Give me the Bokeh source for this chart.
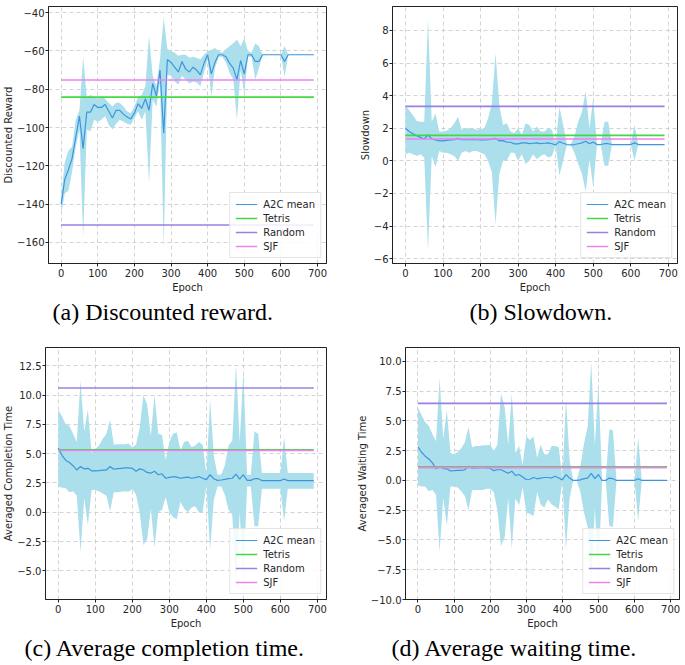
from bokeh.plotting import figure
from bokeh.models import (FixedTicker, CustomJSTickFormatter, Legend, LegendItem,
                          Title, Range1d)
from bokeh.layouts import column, row
from bokeh.embed import file_html
from bokeh.resources import INLINE

# ---------------- data ----------------
epochs = [0, 10, 20, 30, 40, 50, 60, 70, 80, 90,
          100, 110, 120, 130, 140, 150, 160, 170, 180, 190,
          200, 210, 220, 230, 240, 250, 260, 270, 280, 290,
          300, 310, 320, 330, 340, 350, 360, 370, 380, 390,
          400, 410, 420, 430, 440, 450, 460, 470, 480, 490,
          500, 510, 520, 530, 540, 550, 560, 570, 580, 590,
          600, 610, 620, 630, 640, 650, 660, 670, 680, 690]

reward_mean = [-140, -127, -122, -116, -105, -94, -111, -92, -92, -88,
               -89.5, -89.5, -88, -91.5, -95, -91, -91, -93, -94.5, -95.5,
               -92.5, -87.5, -90, -85, -91, -77, -83.5, -70, -103, -64.5,
               -66, -68.5, -71, -65.5, -69.5, -71, -68.5, -70, -72.5, -66.5,
               -62, -72, -66, -62, -62, -63, -66.5, -69, -75, -65,
               -72, -62, -62, -65.5, -65.5, -62, -62, -62, -62, -62,
               -62, -65.5, -62, -62, -62, -62, -62, -62, -62, -62]
reward_upper = [-136, -118, -112, -110, -96, -91, -63, -84, -83, -84,
                -85, -84, -85, -87, -89, -87, -87, -89, -91.5, -92.5,
                -89, -84, -83, -78.5, -52, -73, -78.5, -64, -42.5, -59,
                -60, -61, -62.5, -62, -62, -63.5, -63, -63.5, -64.5, -62,
                -60, -59.5, -58.5, -60, -61, -59, -57.5, -56, -54, -57.5,
                -53.5, -60, -61, -56, -57.5, -62, -62, -62, -62, -62,
                -62, -57.5, -62, -62, -62, -62, -62, -62, -62, -62]
reward_lower = [-145, -134.5, -133, -123, -110, -101, -157.5, -101, -102, -96,
                -97, -96, -94, -98.5, -101, -98, -96, -97, -98, -98.5,
                -95, -91.5, -96, -91.5, -129, -85.5, -89, -76.5, -163, -72.5,
                -73, -76, -77.5, -73, -75, -77, -76, -76.5, -78.5, -71.5,
                -64.5, -84, -69, -63, -63, -66, -71.5, -75, -96, -70,
                -82.5, -63, -63, -75, -69, -62, -62, -62, -62, -62,
                -62, -73.5, -62, -62, -62, -62, -62, -62, -62, -62]

slow_mean = [2.0, 1.8, 1.66, 1.54, 1.44, 1.34, 1.6, 1.34, 1.28, 1.22,
             1.22, 1.26, 1.28, 1.3, 1.38, 1.3, 1.3, 1.3, 1.32, 1.3,
             1.28, 1.28, 1.3, 1.32, 1.38, 1.22, 1.24, 1.14, 1.14, 1.04,
             1.04, 1.1, 1.1, 1.06, 1.08, 1.1, 1.06, 1.08, 1.1, 1.05,
             0.98, 1.18, 1.08, 1.0, 0.98, 1.0, 1.05, 1.1, 1.2, 1.05,
             1.15, 1.0, 1.0, 1.05, 1.05, 1.0, 1.0, 1.0, 1.0, 1.0,
             1.0, 1.1, 1.0, 1.0, 1.0, 1.0, 1.0, 1.0, 1.0, 1.0]
slow_upper = [3.4, 3.1, 2.8, 2.45, 2.4, 2.4, 8.7, 2.4, 2.9, 1.8,
              1.8, 1.85, 2.0, 2.3, 2.7, 1.9, 2.0, 2.0, 2.0, 1.9,
              1.95, 2.0, 2.6, 3.5, 6.6, 3.4, 2.2, 2.3, 1.8, 1.7,
              2.0, 1.6, 2.3, 2.2, 1.8, 2.1, 1.8, 1.8, 2.0, 1.9,
              1.02, 3.3, 2.2, 1.0, 1.0, 1.5, 2.4, 3.0, 4.3, 2.0,
              3.8, 1.0, 1.0, 2.4, 2.4, 1.0, 1.0, 1.0, 1.0, 1.0,
              1.0, 2.2, 1.0, 1.0, 1.0, 1.0, 1.0, 1.0, 1.0, 1.0]
slow_lower = [0.4, 0.5, 0.4, 0.3, 0.4, 0.2, -5.5, 0.3, -0.4, 0.6,
              0.5, 0.5, 0.4, 0.3, 0.0, 0.5, 0.6, 0.5, 0.6, 0.6,
              0.5, 0.4, 0.0, -0.7, -3.9, -0.8, 0.0, 0.0, 0.5, 0.5,
              0.0, 0.4, -0.2, 0.0, 0.4, 0.1, 0.3, 0.4, 0.2, 0.3,
              0.95, -0.9, 0.0, 1.0, 0.98, 0.5, -0.2, -0.8, -1.9, 0.1,
              -1.6, 1.0, 1.0, -0.3, -0.3, 1.0, 1.0, 1.0, 1.0, 1.0,
              1.0, 0.0, 1.0, 1.0, 1.0, 1.0, 1.0, 1.0, 1.0, 1.0]

comp_mean = [5.47, 4.86, 4.44, 4.25, 3.97, 3.6, 3.9, 3.7, 3.75, 3.53,
             3.53, 3.55, 3.6, 3.6, 3.9, 3.67, 3.72, 3.75, 3.78, 3.78,
             3.75, 3.5, 3.7, 3.6, 3.4, 3.33, 3.5, 3.2, 3.28, 2.9,
             2.97, 3.03, 3.0, 2.9, 2.95, 3.0, 2.9, 2.95, 3.05, 2.9,
             2.78, 3.2, 2.86, 2.72, 2.75, 2.8, 2.86, 2.9, 3.25, 2.83,
             3.2, 2.72, 2.72, 2.86, 2.86, 2.7, 2.7, 2.7, 2.7, 2.7,
             2.7, 2.84, 2.7, 2.7, 2.7, 2.7, 2.7, 2.7, 2.7, 2.7]
comp_upper = [8.75, 8.2, 7.5, 7.36, 6.7, 6.0, 11.25, 6.9, 8.75, 5.1,
              5.4, 5.7, 6.25, 6.7, 7.9, 5.75, 5.8, 5.8, 5.8, 5.86,
              5.55, 5.75, 7.2, 10.0, 9.2, 6.5, 10.0, 6.7, 6.6, 4.45,
              6.0, 6.7, 6.8, 5.3, 6.0, 6.1, 5.55, 5.7, 6.0, 5.75,
              3.2, 9.6, 4.86, 3.2, 3.2, 4.0, 5.7, 6.1, 12.6, 6.0,
              12.1, 3.2, 3.2, 6.9, 6.7, 3.35, 3.35, 3.35, 3.35, 3.35,
              3.35, 6.4, 3.35, 3.35, 3.35, 3.35, 3.35, 3.35, 3.35, 3.35]
comp_lower = [2.15, 2.1, 2.05, 1.7, 1.8, 1.4, -3.4, 1.2, -1.1, 1.9,
              1.9, 1.8, 1.6, 1.4, 0.1, 1.7, 1.7, 1.75, 1.8, 1.75,
              1.95, 1.5, 0.0, -2.8, -2.3, 0.3, -3.0, 0.0, 0.2, 1.3,
              0.0, -0.4, -0.6, 0.9, 0.3, 0.0, 0.4, 0.5, 0.0, 0.0,
              2.3, -3.2, 1.0, 2.2, 2.2, 1.5, 0.2, -0.2, -6.3, 0.0,
              -5.7, 2.2, 2.2, -1.2, -1.2, 2.0, 2.0, 2.0, 2.0, 2.0,
              2.0, -0.8, 2.0, 2.0, 2.0, 2.0, 2.0, 2.0, 2.0, 2.0]

wait_mean = [2.82, 2.37, 2.04, 1.8, 1.48, 0.98, 1.15, 1.0, 0.98, 0.8,
             0.82, 0.85, 0.85, 0.9, 1.2, 1.03, 1.06, 1.06, 1.1, 1.06,
             1.03, 0.82, 0.9, 0.9, 0.75, 0.6, 0.78, 0.42, 0.5, 0.3,
             0.08, 0.1, 0.25, 0.14, 0.2, 0.25, 0.25, 0.2, 0.35, 0.2,
             0.05, 0.5, 0.2, 0.0, 0.0, 0.05, 0.15, 0.2, 0.6, 0.15,
             0.5, 0.0, 0.0, 0.2, 0.15, 0.0, 0.0, 0.0, 0.0, 0.0,
             0.0, 0.15, 0.0, 0.0, 0.0, 0.0, 0.0, 0.0, 0.0, 0.0]
wait_upper = [6.1, 5.5, 4.9, 4.6, 3.9, 3.3, 8.6, 3.5, 5.9, 2.3,
              2.2, 2.4, 2.7, 3.2, 4.5, 2.8, 2.9, 2.9, 2.95, 2.95,
              3.0, 2.5, 3.0, 7.3, 6.2, 3.0, 7.3, 2.3, 2.9, 1.3,
              3.7, 3.4, 3.7, 1.9, 3.0, 2.2, 2.2, 2.9, 2.9, 2.8,
              0.1, 6.8, 1.75, 0.0, 0.0, 1.2, 3.1, 4.5, 10.0, 2.9,
              8.2, 0.0, 0.0, 4.3, 4.2, 0.0, 0.0, 0.0, 0.0, 0.0,
              0.0, 3.6, 0.0, 0.0, 0.0, 0.0, 0.0, 0.0, 0.0, 0.0]
wait_lower = [-0.4, -0.5, -0.5, -0.9, -0.8, -1.2, -6.0, -1.5, -3.8, -0.5,
              -0.5, -0.6, -0.9, -1.3, -2.5, -0.8, -0.8, -0.8, -0.8, -0.7,
              -0.7, -1.0, -2.5, -5.5, -4.8, -1.5, -5.7, -1.5, -2.1, -0.6,
              -2.7, -2.8, -3.0, -1.0, -2.0, -2.3, -1.6, -2.0, -2.2, -2.4,
              0.0, -5.8, -1.5, 0.0, 0.0, -1.0, -2.7, -3.9, -8.8, -2.3,
              -8.0, 0.0, 0.0, -3.8, -3.9, 0.0, 0.0, 0.0, 0.0, 0.0,
              0.0, -3.4, 0.0, 0.0, 0.0, 0.0, 0.0, 0.0, 0.0, 0.0]

# baselines: Tetris, Random, SJF
reward_base = [-84.1, -150.9, -75.2]
slow_base = [1.56, 3.34, 1.34]
comp_base = [5.33, 10.6, 5.27]
wait_base = [1.15, 6.48, 1.08]

base_names = ["Tetris", "Random", "SJF"]
x_ticks = [0, 100, 200, 300, 400, 500, 600, 700]
reward_ticks = [-160, -140, -120, -100, -80, -60, -40]
slow_ticks = [-6, -4, -2, 0, 2, 4, 6, 8]
comp_ticks = [-5.0, -2.5, 0.0, 2.5, 5.0, 7.5, 10.0, 12.5]
wait_ticks = [-10.0, -7.5, -5.0, -2.5, 0.0, 2.5, 5.0, 7.5, 10.0]

# ---------------- style ----------------
BAND = "#abdfeb"
MEAN = "#3d95e0"
BASE_COLORS = ["#45d845", "#9a80e0", "#ee82ee"]
TXT = "#262626"
FONT = "DejaVu Sans"


def make_panel(mean, upper, lower, base, yticks, yrange, ylabel, caption,
               decimals, fw, fh, bl, br, bt, bb, cap_offset, cap_size):
    p = figure(frame_width=fw, frame_height=fh, min_border_left=bl,
               min_border_right=br, min_border_top=bt, min_border_bottom=bb,
               x_range=Range1d(-34.5, 724.5), y_range=Range1d(*yrange),
               output_backend="svg", toolbar_location=None, title=None)
    p.varea(x=epochs, y1=lower, y2=upper, fill_color=BAND, fill_alpha=1.0)
    r_mean = p.line(epochs, mean, line_color=MEAN, line_width=1.2)
    items = [LegendItem(label="A2C mean", renderers=[r_mean])]
    for name, val, col in zip(base_names, base, BASE_COLORS):
        r = p.line([epochs[0], epochs[-1]], [val, val], line_color=col,
                   line_width=1.6)
        items.append(LegendItem(label=name, renderers=[r]))

    p.xaxis.ticker = FixedTicker(ticks=x_ticks)
    p.yaxis.ticker = FixedTicker(ticks=yticks)
    p.xaxis.formatter = CustomJSTickFormatter(
        code="return tick.toFixed(0).replace('-', '\u2212')")
    p.yaxis.formatter = CustomJSTickFormatter(
        args=dict(d=decimals),
        code="return tick.toFixed(d).replace('-', '\u2212')")
    p.xaxis.axis_label = "Epoch"
    p.yaxis.axis_label = ylabel
    for ax in p.axis:
        ax.axis_label_text_font = FONT
        ax.axis_label_text_font_size = "10px"
        ax.axis_label_text_font_style = "normal"
        ax.axis_label_text_color = TXT
        ax.major_label_text_font = FONT
        ax.major_label_text_font_size = "10px"
        ax.major_label_text_color = TXT
        ax.major_tick_out = 3
        ax.major_tick_in = 0
        ax.minor_tick_out = 0
        ax.minor_tick_in = 0
        ax.major_tick_line_color = "#222222"
        ax.axis_line_color = "#222222"
    p.xaxis.major_label_standoff = 2
    p.xaxis.axis_label_standoff = 2
    p.yaxis.major_label_standoff = 1
    p.yaxis.axis_label_standoff = 0
    p.outline_line_color = "#222222"
    p.outline_line_width = 1
    p.outline_line_alpha = 1
    p.grid.grid_line_color = "#c8c8c8"
    p.grid.grid_line_dash = "4 3"
    p.grid.grid_line_width = 0.8
    p.background_fill_color = "white"
    p.border_fill_color = "white"

    leg = Legend(items=items, location="bottom_right",
                 label_text_font=FONT, label_text_font_size="10px",
                 label_text_color=TXT, label_height=12, glyph_height=12,
                 glyph_width=22, label_standoff=6, spacing=2, padding=5,
                 margin=5, border_line_color="#cccccc", border_line_width=1,
                 background_fill_alpha=0.85)
    p.add_layout(leg)

    cap = Title(text=caption, align="left", offset=cap_offset,
                text_font="Liberation Serif", text_font_size=cap_size,
                text_font_style="normal", text_color="black", standoff=2)
    p.add_layout(cap, "below")
    return p


# row 1: top 6, frame 257, bottom 67 -> 330 ; row 2: top 17, frame 252, bottom 64 -> 333
pa = make_panel(reward_mean, reward_upper, reward_lower, reward_base,
                reward_ticks, (-171, -36.8), "Discounted Reward",
                "(a) Discounted reward.", 0,
                278, 257, 44, 15, 6, 67, 4, "24px")
pb = make_panel(slow_mean, slow_upper, slow_lower, slow_base,
                slow_ticks, (-6.3, 9.47), "Slowdown", "(b) Slowdown.", 0,
                285, 257, 51, 3, 6, 67, 77, "24px")
pc = make_panel(comp_mean, comp_upper, comp_lower, comp_base,
                comp_ticks, (-7.45, 14.06), "Averaged Completion Time",
                "(c) Average completion time.", 1,
                281, 252, 44, 15, 17, 64, -21, "24px")
pd = make_panel(wait_mean, wait_upper, wait_lower, wait_base,
                wait_ticks, (-10.0, 11.17), "Averaged Waiting Time",
                "(d) Average waiting time.", 1,
                274, 252, 64, 3, 17, 64, -14, "24px")

layout = column(row(pa, pb, spacing=0), row(pc, pd, spacing=0), spacing=0)

open("out.html", "w").write(file_html(layout, INLINE))
